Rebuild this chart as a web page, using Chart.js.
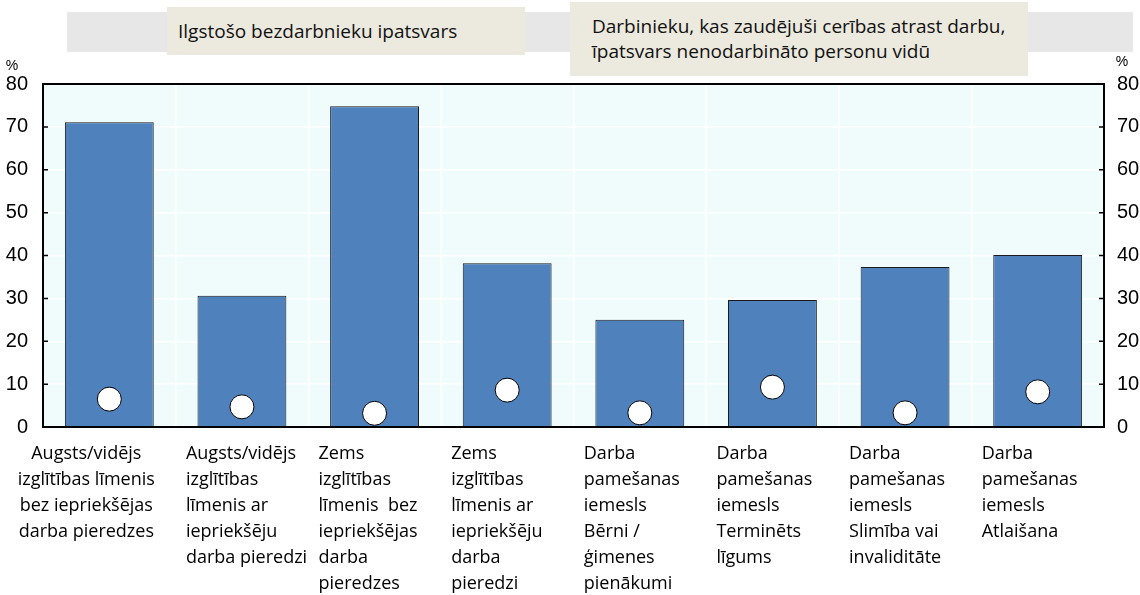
<!DOCTYPE html>
<html>
<head>
<meta charset="utf-8">
<script src="https://cdn.jsdelivr.net/npm/chart.js@4.4.1/dist/chart.umd.min.js"></script>
<style>
  body { margin: 0; background: #fff; }
  #wrap { position: relative; width: 1140px; height: 595px; }
  #wrap canvas { position: absolute; left: 0; top: 0; }
  .band { position: absolute; left: 67px; top: 12px; width: 1066px; height: 40px; background: #e7e7e7; }
  .box { position: absolute; background: #ece9df; font-family: "Open Sans", sans-serif; font-size: 19px; color: #111; white-space: nowrap; }
  #leg1 { left: 167px; top: 7px; width: 347px; height: 48px; line-height: 48px; padding-left: 11px; }
  #leg2 { left: 570px; top: 2px; width: 436px; height: 62px; padding: 12px 0 0 22px; line-height: 25px; }
</style>
</head>
<body>
<div id="wrap">
  <canvas id="chart" width="1140" height="595"></canvas>
  <div class="band"></div>
  <div class="box" id="leg1">Ilgstošo bezdarbnieku ipatsvars</div>
  <div class="box" id="leg2">Darbinieku, kas zaudējuši cerības atrast darbu,<br>īpatsvars nenodarbināto personu vidū</div>
</div>
<script>
const categories = [
  ['Augsts/vidējs', 'izglītības līmenis', 'bez iepriekšējas', 'darba pieredzes'],
  ['Augsts/vidējs', 'izglītības', 'līmenis ar', 'iepriekšēju', 'darba pieredzi'],
  ['Zems', 'izglītības', 'līmenis  bez', 'iepriekšējas', 'darba', 'pieredzes'],
  ['Zems', 'izglītības', 'līmenis ar', 'iepriekšēju', 'darba', 'pieredzi'],
  ['Darba', 'pamešanas', 'iemesls', 'Bērni /', 'ģimenes', 'pienākumi'],
  ['Darba', 'pamešanas', 'iemesls', 'Terminēts', 'līgums'],
  ['Darba', 'pamešanas', 'iemesls', 'Slimība vai', 'invaliditāte'],
  ['Darba', 'pamešanas', 'iemesls', 'Atlaišana']
];
const longTermShare = [71.1, 30.6, 74.8, 38.2, 25.0, 29.6, 37.3, 40.1];
const discouragedShare = [6.5, 4.7, 3.2, 8.6, 3.3, 9.3, 3.3, 8.2];
const yMin = 0, yMax = 80, yStep = 10;

const tickFont = { family: '"Liberation Sans Narrow", "Liberation Sans", Arial', size: 20 };

// background, frame, inward ticks, category labels, % signs
const decor = {
  id: 'decor',
  beforeDraw(chart) {
    const { ctx, chartArea: a } = chart;
    ctx.save();
    ctx.fillStyle = '#f0fcfc';
    ctx.fillRect(a.left, a.top, a.right - a.left, a.bottom - a.top);
    ctx.restore();
  },
  afterDraw(chart) {
    const { ctx, chartArea: a } = chart;
    const xs = chart.scales.x, ys = chart.scales.y;
    ctx.save();
    ctx.strokeStyle = '#000';
    ctx.lineWidth = 2;
    ctx.strokeRect(a.left, a.top, a.right - a.left, a.bottom - a.top);
    ctx.lineWidth = 1.5;
    for (let v = yMin; v <= yMax; v += yStep) {
      const y = ys.getPixelForValue(v);
      ctx.beginPath();
      ctx.moveTo(a.left, y); ctx.lineTo(a.left + 5, y);
      ctx.moveTo(a.right - 5, y); ctx.lineTo(a.right, y);
      ctx.stroke();
    }
    ctx.fillStyle = '#000';
    ctx.font = '18px "Open Sans"';
    ctx.textBaseline = 'middle';
    categories.forEach((lines, i) => {
      const cx = xs.getPixelForValue(i);
      lines.forEach((t, j) => {
        const y = a.bottom + 27 + j * 26;
        if (i === 0) { ctx.textAlign = 'center'; ctx.fillText(t, cx - 23, y); }
        else { ctx.textAlign = 'left'; ctx.fillText(t, cx - 56, y); }
      });
    });
    ctx.font = '14px "Liberation Sans Narrow", "Liberation Sans"';
    ctx.textAlign = 'center';
    ctx.fillText('%', 12, 66);
    ctx.fillText('%', 1122, 62);
    ctx.restore();
  }
};

new Chart(document.getElementById('chart'), {
  data: {
    labels: categories.map(c => c.join(' ')),
    datasets: [
      {
        type: 'line',
        label: 'Darbinieku, kas zaudējuši cerības atrast darbu, īpatsvars nenodarbināto personu vidū',
        data: discouragedShare,
        showLine: false,
        pointRadius: 12,
        pointHoverRadius: 12,
        pointBackgroundColor: '#fff',
        pointBorderColor: '#000',
        pointBorderWidth: 1,
        order: 0
      },
      {
        type: 'bar',
        label: 'Ilgstošo bezdarbnieku ipatsvars',
        data: longTermShare,
        backgroundColor: '#4f81bd',
        borderColor: '#1a1a1a',
        borderWidth: 1,
        categoryPercentage: 1,
        barPercentage: 0.67,
        order: 1
      }
    ]
  },
  options: {
    responsive: false,
    animation: false,
    layout: { padding: { top: 84, left: 0, right: 0, bottom: 0 } },
    plugins: { legend: { display: false }, tooltip: { enabled: false } },
    scales: {
      x: {
        offset: true,
        grid: { offset: true, color: '#ffffff', lineWidth: 1.5, drawTicks: false },
        border: { display: false },
        ticks: { display: false },
        afterFit(s) { s.height = 168; }
      },
      y: {
        position: 'left',
        min: yMin, max: yMax,
        ticks: { stepSize: yStep, font: tickFont, color: '#000', padding: 15 },
        grid: { color: '#ffffff', lineWidth: 1.5, drawTicks: false },
        border: { display: false },
        afterFit(s) { s.width = 43; }
      },
      y2: {
        position: 'right',
        min: yMin, max: yMax,
        ticks: { stepSize: yStep, font: tickFont, color: '#000', padding: 13 },
        grid: { display: false, drawTicks: false },
        border: { display: false },
        afterFit(s) { s.width = 36; }
      }
    }
  },
  plugins: [decor]
});
</script>
</body>
</html>
